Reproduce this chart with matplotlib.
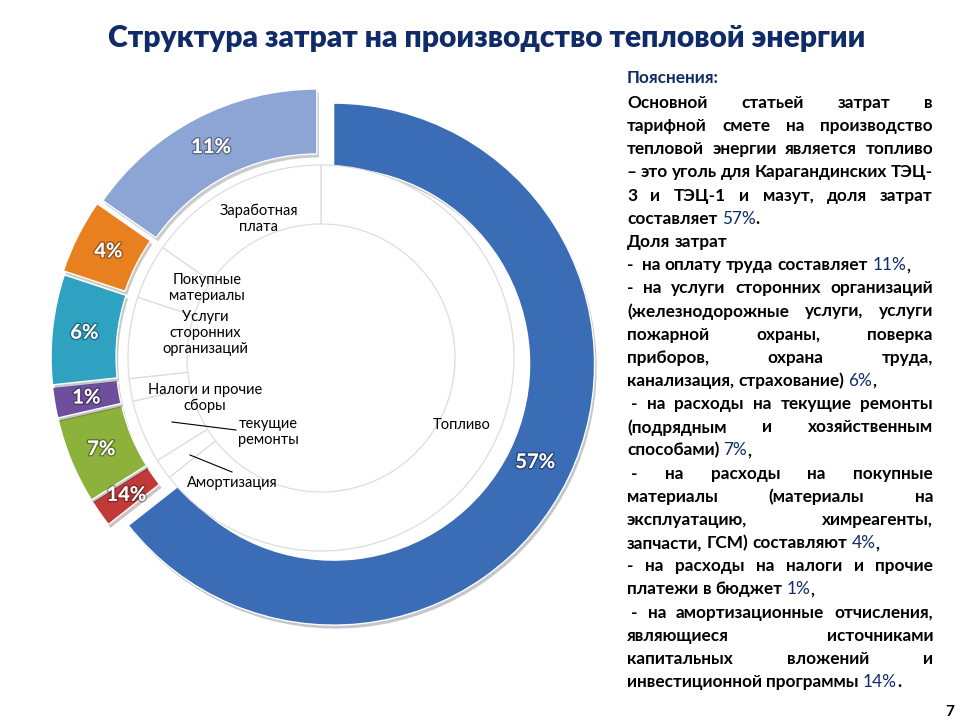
import re
import math
import matplotlib
matplotlib.use("Agg")
import matplotlib.pyplot as plt
import matplotlib.patheffects as pe

FONT = ["Lato", "DejaVu Sans"]
NAVY = "#0F2C68"

# slices clockwise from 12 o'clock; shares are the angular sizes as drawn
categories = ["Топливо", "Амортизация", "текущие\nремонты", "Налоги и прочие\nсборы",
              "Услуги\nсторонних\nорганизаций", "Покупные\nматериалы", "Заработная\nплата"]
shares = [64.4, 1.7, 5.3, 1.9, 6.8, 4.6, 15.3]
pct_labels = ["57%", "14%", "7%", "1%", "6%", "4%", "11%"]
colors = ["#3A6DB5", "#C2393A", "#8CB23C", "#6E4F9E", "#2FA2C2", "#E8801F", "#8CA5D5"]
explode = [14, 9, 9, 9, 9, 11, 9]

# category label positions in pixels (x, y from top)
cat_pos = [(462, 425), (232, 483), (268, 432), (205, 398), (205, 333), (207, 288), (259, 219)]

title = "Структура затрат на производство тепловой энергии"
note_head = "Пояснения:"
note_lines = [
    "Основной статьей затрат в",
    "тарифной смете на производство",
    "тепловой энергии является топливо",
    "– это уголь для Карагандинских ТЭЦ-",
    "3 и ТЭЦ-1 и мазут, доля затрат",
    "составляет 57%.",
    "Доля затрат",
    "-  на оплату труда составляет 11%,",
    "- на услуги сторонних организаций",
    "(железнодорожные услуги, услуги",
    "пожарной охраны, поверка",
    "приборов, охрана труда,",
    "канализация, страхование) 6%,",
    " - на расходы на текущие ремонты",
    "(подрядным и хозяйственным",
    "способами) 7%,",
    " -  на расходы на покупные",
    "материалы (материалы на",
    "эксплуатацию, химреагенты,",
    "запчасти, ГСМ) составляют 4%,",
    "- на расходы на налоги и прочие",
    "платежи в бюджет 1%,",
    " - на амортизационные отчисления,",
    "являющиеся источниками",
    "капитальных вложений и",
    "инвестиционной программы 14%.",
]
justified = [True, True, True, True, True, False, False, False, True, True, True, True, False,
             True, True, False, True, True, True, False, True, False, True, True, True, False]

W, H = 960, 720
CX, CY = 321, H - 358

fig = plt.figure(figsize=(9.6, 7.2), dpi=100)
ax = fig.add_axes([0, 0, 1, 1])

wedges, _ = ax.pie(shares, radius=261, center=(CX, CY), startangle=90, counterclock=False,
                   colors=colors, explode=explode,
                   wedgeprops=dict(width=65, edgecolor="white", linewidth=1))
for w in wedges:
    w.set_path_effects([pe.SimplePatchShadow(offset=(1.5, -2.5), alpha=0.25), pe.Normal()])

ax.pie(shares, radius=193, center=(CX, CY), startangle=90, counterclock=False,
       colors=["white"] * len(shares),
       wedgeprops=dict(width=59, edgecolor="#DDDDDD", linewidth=0.9))

ax.set_xlim(0, W)
ax.set_ylim(0, H)
ax.set_aspect("equal")
ax.axis("off")

for w, lab in zip(wedges, pct_labels):
    mid = math.radians((w.theta1 + w.theta2) / 2)
    x = CX + 238 * math.cos(mid)
    y = CY + 238 * math.sin(mid)
    ax.text(x, y, lab, ha="center", va="center", color="white", fontsize=14.5,
            fontweight="bold", family=FONT,
            path_effects=[pe.Stroke(linewidth=2, foreground=(0, 0, 0, 0.35)), pe.Normal()])

for cat, (px, py) in zip(categories, cat_pos):
    ax.text(px, H - py, cat, ha="center", va="center", fontsize=10.5, family=FONT,
            color="black", linespacing=1.2)

# leader lines for the two small slices
ax.plot([172, 236], [H - 422, H - 430], color="black", lw=0.8)
ax.plot([190, 232], [H - 455, H - 472], color="black", lw=0.8)

ax.text(487, H - 38, title, ha="center", va="center", fontsize=21.6, fontweight="heavy",
        color=NAVY, family=FONT)
ax.text(950, H - 712, "7", ha="center", va="center", fontsize=11, fontweight="bold",
        family=FONT)

# justified notes on the right
renderer = fig.canvas.get_renderer()
X0, X1 = 627, 933


def text_width(s, size, weight):
    t = ax.text(0, 0, s, fontsize=size, fontweight=weight, family=FONT)
    w = t.get_window_extent(renderer).width
    t.remove()
    return w


def pieces(word):
    out = []
    for p in re.split(r"(\d+%)", word):
        if p:
            if re.fullmatch(r"\d+%", p):
                out.append((p, NAVY, "normal"))
            else:
                out.append((p, "black", "bold"))
    return out


def layout(line, size):
    toks = re.split(r"( +)", line.strip())
    words = [t for t in toks if t and not t.startswith(" ")]
    spaces = [len(t) for t in toks if t.startswith(" ")]
    widths = [[text_width(p, size, wt) for p, c, wt in pieces(wd)] for wd in words]
    return words, spaces, widths


size = 13.0
sp = text_width("a a", size, "bold") - text_width("aa", size, "bold")
natural = 0
for line, j in zip(note_lines, justified):
    if j:
        words, spaces, widths = layout(line, size)
        natural = max(natural, sum(sum(w) for w in widths) + sp * sum(spaces))
size = size * min(1.0, (X1 - X0) / natural)
sp = text_width("a a", size, "bold") - text_width("aa", size, "bold")

ax.text(X0, H - 78, note_head, ha="left", va="center", fontsize=size, fontweight="bold",
        color=NAVY, family=FONT)

for i, (line, j) in enumerate(zip(note_lines, justified)):
    y = H - (103 + i * 23.16)
    x = X0 + (4 if line.startswith(" ") else 0)
    words, spaces, widths = layout(line, size)
    total = sum(sum(w) for w in widths)
    if j and spaces:
        gap_unit = (X1 - x - total) / len(spaces)
        gaps = [gap_unit] * len(spaces)
    else:
        gaps = [sp * n for n in spaces]
    for k, wd in enumerate(words):
        for (p, c, wt), pw in zip(pieces(wd), widths[k]):
            ax.text(x, y, p, ha="left", va="center", fontsize=size, fontweight=wt,
                    color=c, family=FONT)
            x += pw
        if k < len(gaps):
            x += gaps[k]

fig.savefig("out.png", dpi=100)
